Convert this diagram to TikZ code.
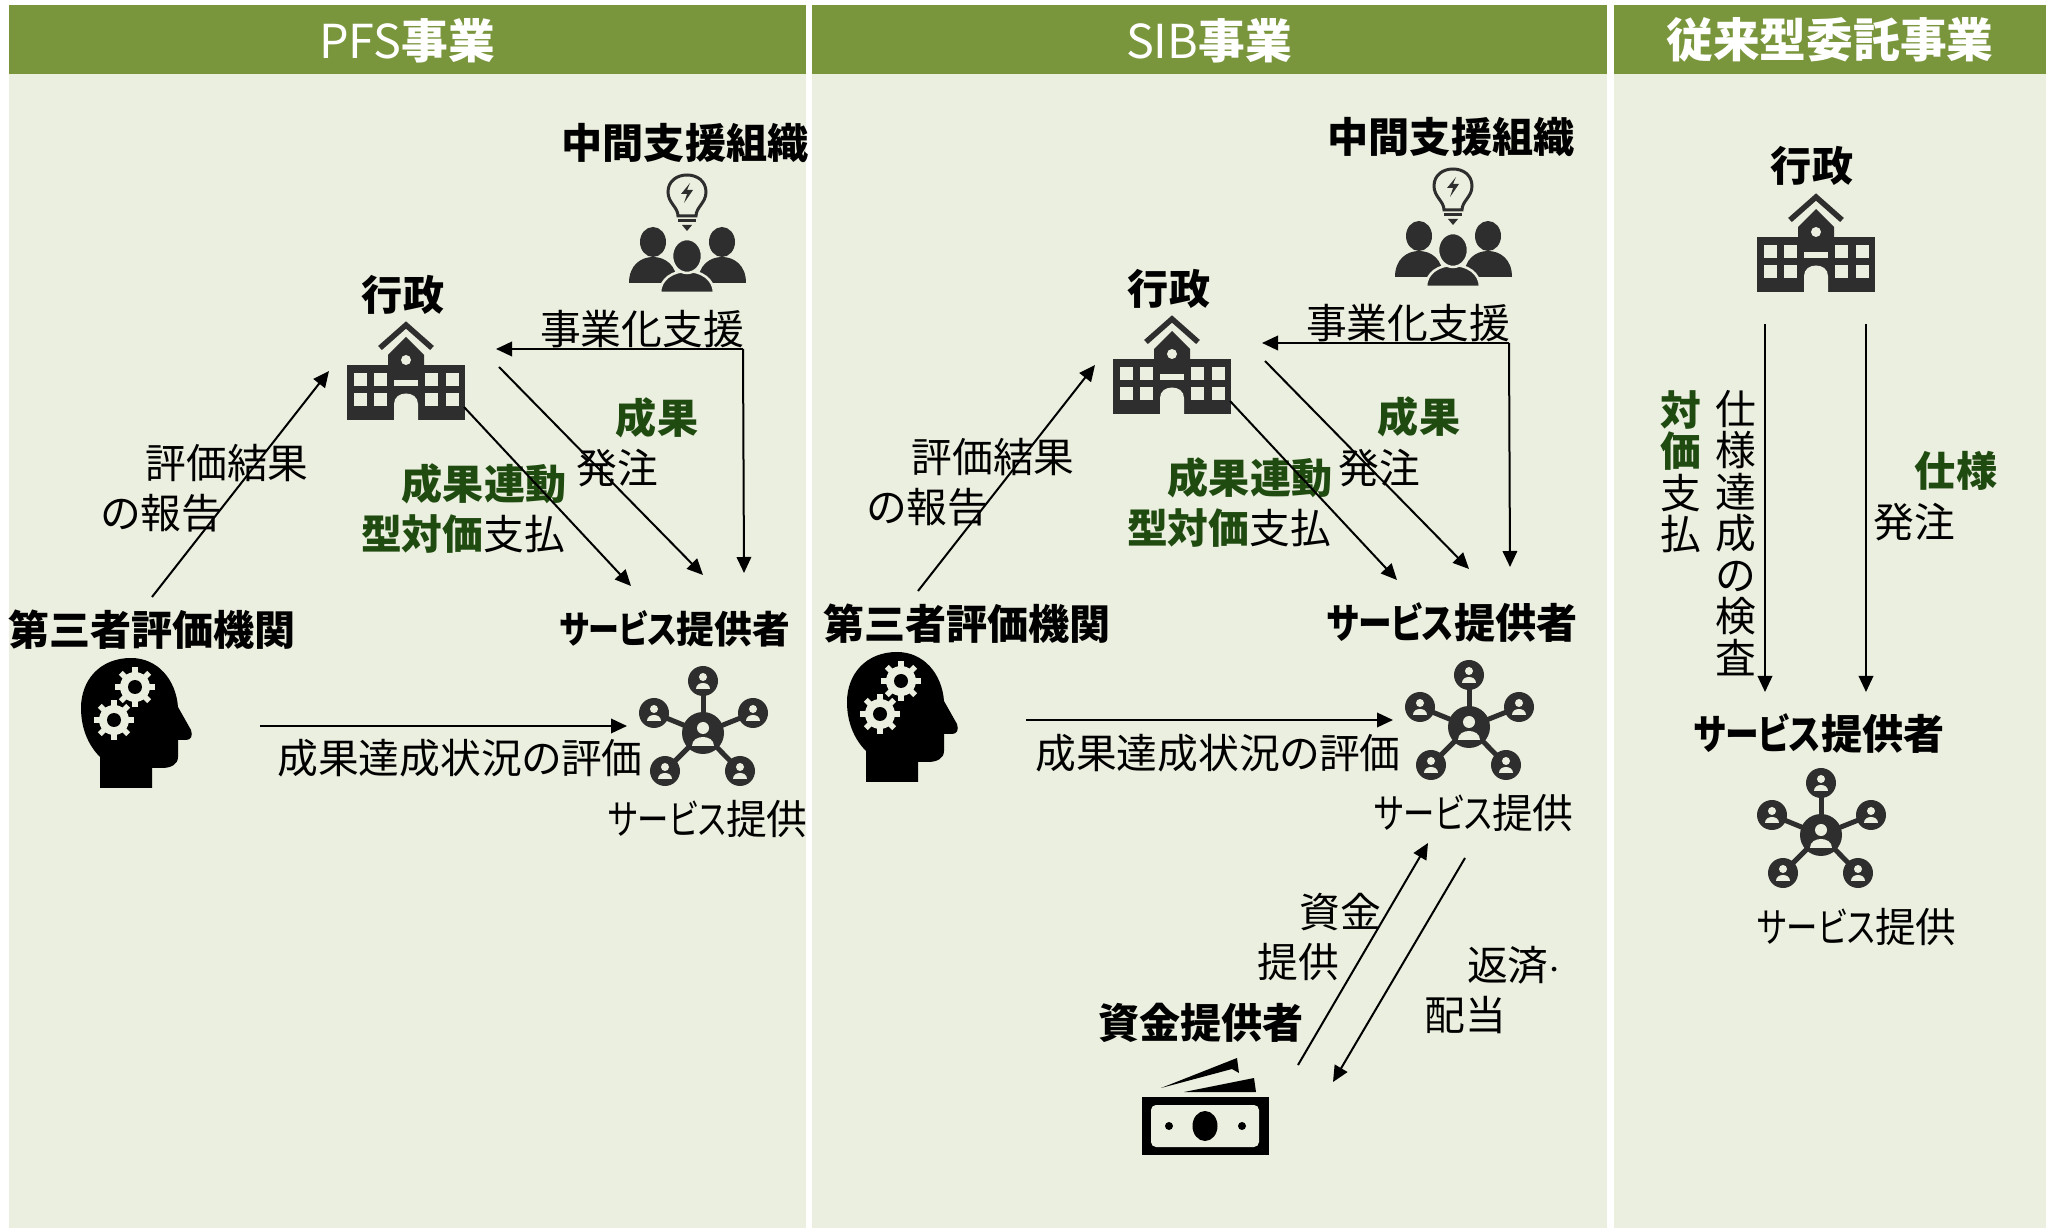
\documentclass[tikz,border=0pt]{standalone}
\usepackage{fontspec}
\setmainfont[RawFeature=+palt]{Noto Sans CJK JP}
\usetikzlibrary{arrows.meta}
\definecolor{headgreen}{HTML}{7A963D}
\definecolor{panelgreen}{HTML}{EBEFDF}
\definecolor{textgreen}{HTML}{1F4A10}
\definecolor{icondark}{HTML}{2E2E2E}
\newcommand{\svckana}{\scalebox{0.82}[1]{サービス}}
\newcommand{\svckanathin}{\scalebox{0.77}[1]{サービス}}
\tikzset{
    lbl/.style={font=\fontsize{23.2}{23.6}\selectfont, inner sep=0pt, align=center},
    boldlbl/.style={font=\fontsize{23.4}{23.6}\selectfont\bfseries, inner sep=0pt, align=center},
    headlbl/.style={font=\fontsize{26.6}{28}\selectfont, text=white, inner sep=0pt},
    arr/.style={-{Triangle[length=3.2mm,width=2.9mm]}, line width=0.4mm},
    pics/building/.style={code={
        \fill[icondark] (-59,45) rectangle (59,100);
        \fill[icondark] (-18,46) -- (-18,35) -- (0,17) -- (18,35) -- (18,46) -- cycle;
        \draw[icondark, line width=1.1mm] (-26,28) -- (0,5) -- (26,28);
        \fill[panelgreen] (0,40) circle (5);
        \foreach \wx in {-52,-32,19,40} \foreach \wy in {53,73}
            \fill[panelgreen] (\wx,\wy) rectangle ++(13,13);
        \fill[panelgreen] (-12,60) rectangle (12,66);
        \fill[panelgreen] (-12,100) -- (-12,84) .. controls (-12,70) and (12,70) .. (12,84) -- (12,100) -- cycle;
    }},
    pics/bulbgroup/.style={code={
        \draw[icondark, line width=0.6mm] (-9,41) .. controls (-9,32) and (-19,28) .. (-19,17)
            .. controls (-19,6) and (-10,0) .. (0,0) .. controls (10,0) and (19,6) .. (19,17)
            .. controls (19,28) and (9,32) .. (9,41) -- cycle;
        \fill[icondark] (3,8) -- (-6,19) -- (0,19) -- (-3,28) -- (6,15) -- (0,15) -- cycle;
        \draw[icondark, line width=0.6mm] (-9,46) -- (9,46);
        \fill[icondark] (-5,50) -- (5,50) -- (0,56) -- cycle;
        \foreach \px in {-34,35} {
            \fill[icondark] (\px,67) ellipse (13 and 15);
            \fill[icondark] (\px-24,108) .. controls (\px-24,90) and (\px-12,82) .. (\px,82) .. controls (\px+12,82) and (\px+24,90) .. (\px+24,108) -- cycle;
        }
        \draw[panelgreen, fill=icondark, line width=0.5mm] (-27,118) .. controls (-27,104) and (-14,96) .. (0,96) .. controls (14,96) and (27,104) .. (27,118) -- cycle;
        \draw[panelgreen, fill=icondark, line width=0.5mm] (0,81) ellipse (15 and 17);
    }},
    pics/gearwheel/.style={code={
        \fill[panelgreen] (0,0) circle (15);
        \foreach \ga in {0,45,90,135}
            \draw[panelgreen, line width=1.1mm] (\ga:-20) -- (\ga:20);
        \fill[black] (0,0) circle (7);
    }},
    pics/thinkhead/.style={code={
        \fill[black] (19,130) -- (19,99) .. controls (7,87) and (0,70) .. (0,50)
            .. controls (0,22) and (19,0) .. (50,0) .. controls (77,0) and (95,22) .. (97,49)
            -- (110,72) .. controls (112,78) and (110,82) .. (105,82) -- (97,82) -- (97,99)
            .. controls (97,107) and (89,110) .. (81,110) -- (71,110) -- (71,130) -- cycle;
        \pic at (54,29) {gearwheel};
        \pic at (33,62) {gearwheel};
    }},
    pics/netperson/.style={code={
        \fill[icondark] (0,0) circle (15);
        \fill[panelgreen] (0,-4) circle (4);
        \fill[panelgreen] (-7,8) .. controls (-7,0) and (7,0) .. (7,8) -- cycle;
    }},
    pics/network/.style={code={
        \foreach \nx/\ny in {0/-52,-49/-20,50/-20,-38/38,37/38} {
            \draw[icondark, line width=1mm] (0,0) -- (\nx,\ny);
            \pic at (\nx,\ny) {netperson};
        }
        \fill[icondark] (0,0) circle (21);
        \fill[panelgreen] (0,-5) circle (6);
        \fill[panelgreen] (-11,13) .. controls (-11,1) and (11,1) .. (11,13) -- cycle;
    }},
    pics/moneystack/.style={code={
        \fill[black] (-44,-38) -- (32,-68) -- (34,-53) -- (27,-57) -- cycle;
        \fill[black] (-21,-34) -- (49,-48) -- (51,-34) -- cycle;
        \fill[black] (-63,-29) rectangle (64,29);
        \fill[panelgreen, rounded corners=1mm] (-54,-21) rectangle (54,21);
        \fill[black] (0,0) ellipse (12.5 and 15);
        \fill[black] (-36,0) circle (4);
        \fill[black] (37,0) circle (4);
    }},
}
% parts the first two panels share
\newcommand{\flowpart}[1]{
    \node[boldlbl] (#1support) at (685,143) {中間支援組織};
    \pic at (687,175) {bulbgroup};
    \node[boldlbl] (#1gov) at (403,295) {行政};
    \pic at (406,320) {building};
    \pic at (81,658) {thinkhead};
    \pic at (703,733) {network};
    \node[lbl] (#1bizsupport) at (642,329) {事業化支援};
    \node[lbl] (#1evalreport) at (227,463) {評価結果};
    \node[lbl] (#1evalreporttwo) at (162,513) {の報告};
    \node[boldlbl, text=textgreen] (#1linked) at (484,484) {成果連動};
    \node[lbl] (#1linkedpay) at (463,534) {\textbf{\textcolor{textgreen}{型対価}}支払};
    \node[lbl] (#1service) at (708,819) {\svckanathin 提供};
    \coordinate (#1evalfrom) at (152,597);
    \coordinate (#1evalto) at (329,371);
    \coordinate (#1elbow) at (743,349);
    \coordinate (#1elbowto) at (496,349);
    \coordinate (#1elbowdown) at (744,573);
    \coordinate (#1orderfrom) at (499,367);
    \coordinate (#1orderto) at (703,575);
    \coordinate (#1payfrom) at (464,407);
    \coordinate (#1payto) at (631,586);
    \coordinate (#1checkfrom) at (260,726);
    \coordinate (#1checkto) at (627,726);
    \draw[arr] (#1evalfrom) -- (#1evalto);
    \draw[arr] (#1elbow) -- (#1elbowto);
    \draw[arr] (#1elbow) -- (#1elbowdown);
    \draw[arr] (#1orderfrom) -- (#1orderto);
    \draw[arr] (#1payfrom) -- (#1payto);
    \draw[arr] (#1checkfrom) -- (#1checkto);
}
\begin{document}
\begin{tikzpicture}[x=0.2mm, y=-0.2mm]
    \useasboundingbox (0,0) rectangle (2053,1229);
    % panels
    \fill[panelgreen] (9,74) rectangle (806,1228);
    \fill[panelgreen] (812,74) rectangle (1607,1228);
    \fill[panelgreen] (1614,74) rectangle (2046,1228);
    \fill[headgreen] (9,5) rectangle (806,74);
    \fill[headgreen] (812,5) rectangle (1607,74);
    \fill[headgreen] (1614,5) rectangle (2046,74);
    \node[headlbl] (pfshead) at (407,41) {PFS\textbf{事業}};
    \node[headlbl] (sibhead) at (1209,41) {SIB\textbf{事業}};
    \node[headlbl] (oldhead) at (1830,40) {\textbf{従来型委託事業}};

    % PFS
    \flowpart{pfs}
    \node[boldlbl] (pfsthird) at (152,630) {第三者評価機関};
    \node[boldlbl, font=\fontsize{21.5}{22}\selectfont\bfseries] (pfsprovider) at (675,629) {\svckana 提供者};
    \node[lbl] (pfscheck) at (460,758) {成果達成状況の評価};
    \node[boldlbl, text=textgreen] (pfsresult) at (657,418) {成果};
    \node[lbl] (pfsorder) at (617,468) {発注};

    % SIB
    \begin{scope}[shift={(766,-6)}]
        \flowpart{sib}
    \end{scope}
    \node[boldlbl] (sibthird) at (967,624) {第三者評価機関};
    \node[boldlbl] (sibprovider) at (1452,623) {\svckana 提供者};
    \node[lbl] (sibcheck) at (1218,753) {成果達成状況の評価};
    \node[boldlbl, text=textgreen] (sibresult) at (1419,417) {成果};
    \node[lbl] (siborder) at (1379,468) {発注};
    \node[lbl] (sibfund) at (1340,912) {資金};
    \node[lbl] (sibfundtwo) at (1298,962) {提供};
    \node[lbl] (sibrepay) at (1514,965) {返済$\cdot$};
    \node[lbl] (sibrepaytwo) at (1465,1015) {配当};
    \node[boldlbl] (sibfunder) at (1201,1023) {資金提供者};
    \pic at (1205,1126) {moneystack};
    \coordinate (sibfundfrom) at (1298,1065);
    \coordinate (sibfundto) at (1428,843);
    \coordinate (sibrepayfrom) at (1465,858);
    \coordinate (sibrepayto) at (1333,1082);
    \draw[arr] (sibfundfrom) -- (sibfundto);
    \draw[arr] (sibrepayfrom) -- (sibrepayto);

    % conventional
    \node[boldlbl] (oldgov) at (1812,166) {行政};
    \pic at (1816,192) {building};
    \node[boldlbl] (oldprovider) at (1819,734) {\svckana 提供者};
    \pic at (1821,835) {network};
    \node[lbl] (oldservice) at (1857,927) {\svckanathin 提供};
    \node[lbl, anchor=north] (oldpay) at (1681,390) {\textbf{\textcolor{textgreen}{対}}\\\textbf{\textcolor{textgreen}{価}}\\支\\払};
    \node[lbl, anchor=north] (oldinspect) at (1736,390) {仕\\様\\達\\成\\の\\検\\査};
    \node[boldlbl, text=textgreen] (oldspec) at (1956,471) {仕様};
    \node[lbl] (oldorder) at (1914,522) {発注};
    \coordinate (oldleftfrom) at (1765,324);
    \coordinate (oldleftto) at (1765,692);
    \coordinate (oldrightfrom) at (1866,324);
    \coordinate (oldrightto) at (1866,692);
    \draw[arr] (oldleftfrom) -- (oldleftto);
    \draw[arr] (oldrightfrom) -- (oldrightto);
\end{tikzpicture}
\end{document}
